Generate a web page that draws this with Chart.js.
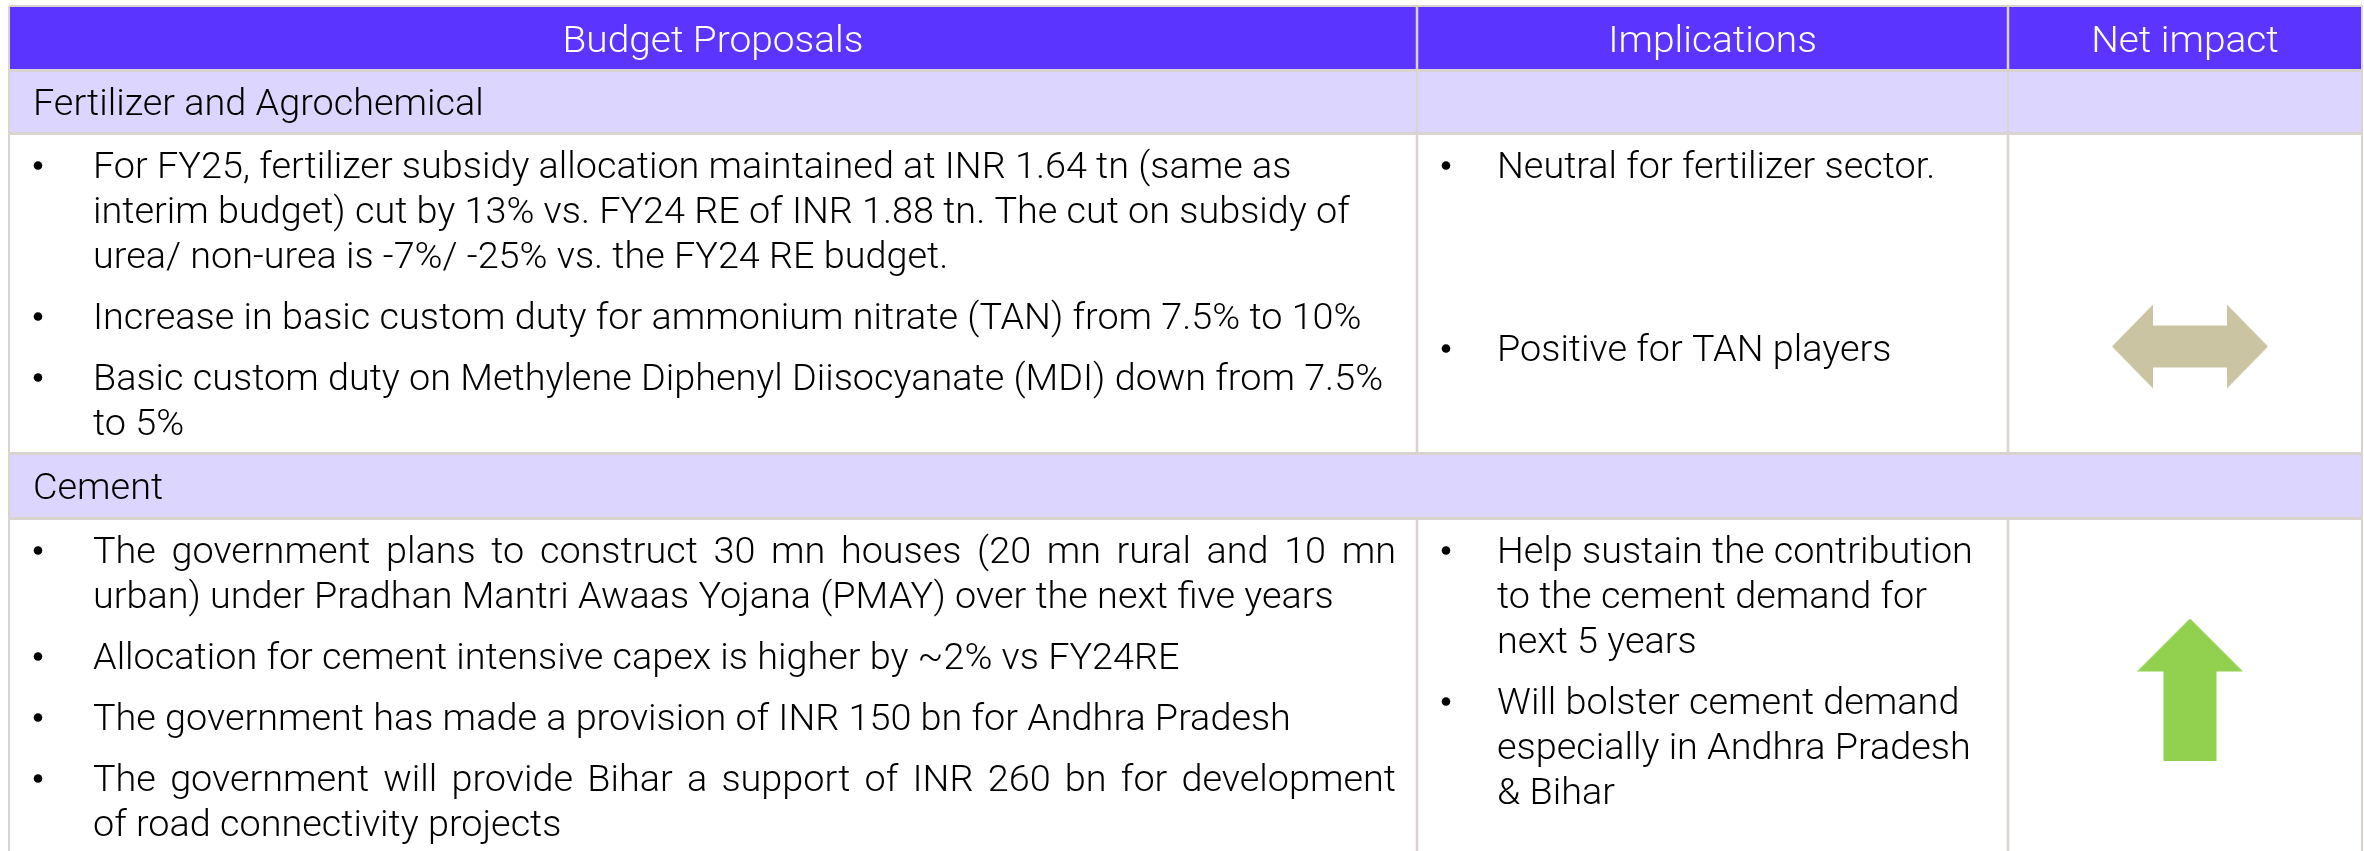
<!DOCTYPE html>
<html>
<head>
<meta charset="utf-8">
<script src="https://cdn.jsdelivr.net/npm/chart.js@4.4.1/dist/chart.umd.min.js"></script>
<style>
  html, body { margin: 0; padding: 0; background: #fff; overflow: hidden; }
  canvas { display: block; }
</style>
</head>
<body>
<canvas id="table" width="2364" height="851"></canvas>
<script>
// ---- content ----
const headers = ['Budget Proposals', 'Implications', 'Net impact'];
const sections = ['Fertilizer and Agrochemical', 'Cement'];

// one array of bullets per section, each bullet is a list of its lines
const proposals = [
  [
    ['For FY25, fertilizer subsidy allocation maintained at INR 1.64 tn (same as',
     'interim budget) cut by 13% vs. FY24 RE of INR 1.88 tn. The cut on subsidy of',
     'urea/ non-urea is -7%/ -25% vs. the FY24 RE budget.'],
    ['Increase in basic custom duty for ammonium nitrate (TAN) from 7.5% to 10%'],
    ['Basic custom duty on Methylene Diphenyl Diisocyanate (MDI) down from 7.5%',
     'to 5%']
  ],
  [
    ['The government plans to construct 30 mn houses (20 mn rural and 10 mn',
     'urban) under Pradhan Mantri Awaas Yojana (PMAY) over the next five years'],
    ['Allocation for cement intensive capex is higher by ~2% vs FY24RE'],
    ['The government has made a provision of INR 150 bn for Andhra Pradesh'],
    ['The government will provide Bihar a support of INR 260 bn for development',
     'of road connectivity projects']
  ]
];
const proposalsJustified = [false, true];

const implications = [
  [
    ['Neutral for fertilizer sector.'],
    [''],
    [''],
    ['Positive for TAN players']
  ],
  [
    ['Help sustain the contribution', 'to the cement demand for', 'next 5 years'],
    ['Will bolster cement demand', 'especially in Andhra Pradesh', '& Bihar']
  ]
];

const impacts = ['neutral', 'up'];

// ---- layout ----
const W = 2364, H = 851;
const colEdges = [9, 1417, 2008, 2362];
const rowEdges = [6, 70.5, 133.5, 453.5, 518.5, 880];
const rowKinds = ['header', 'section', 'body', 'section', 'body'];
const sectionMerged = [false, true];
const impactOffset = [213, 171];

const FONT_FAMILY = 'Roboto, "Open Sans", sans-serif';
const FONT_SIZE = 36;
const HEADER_SIZE = 37;
const STRETCH = 1.05;
const LINE_H = 45;
const PARA_GAP = 16;
const BODY_PAD = 31;
const TEXT_DY = 4;

const colors = {
  header: '#5b35ff',
  section: '#dcd6fe',
  body: '#ffffff',
  grid: '#d9d4d0',
  text: '#000000',
  headerText: '#ffffff',
  neutral: '#cac4a3',
  up: '#92d050'
};

function setFont(ctx, size) {
  ctx.font = `300 ${size}px ${FONT_FAMILY}`;
}

function drawText(ctx, text, x, y, align, justifyTo) {
  if (!text) return;
  if (justifyTo) {
    const words = text.split(' ');
    const widths = words.map(w => ctx.measureText(w).width * STRETCH);
    const total = widths.reduce((a, b) => a + b, 0);
    const gap = (justifyTo - x - total) / (words.length - 1);
    let cx = x;
    words.forEach((w, i) => {
      drawText(ctx, w, cx, y, 'left');
      cx += widths[i] + gap;
    });
    return;
  }
  ctx.save();
  ctx.translate(x, y);
  ctx.scale(STRETCH, 1);
  ctx.textAlign = align;
  ctx.fillText(text, 0, 0);
  ctx.restore();
}

function drawBullets(ctx, paras, left, right, top, justify, sx, sy, textIndent) {
  let y = top;
  paras.forEach(lines => {
    lines.forEach((line, i) => {
      const py = sy(y);
      if (i === 0 && line) {
        ctx.beginPath();
        ctx.arc(sx(left + 29), py - 3, 4.3, 0, Math.PI * 2);
        ctx.fill();
      }
      const last = i === lines.length - 1;
      drawText(ctx, line, sx(left + textIndent), py, 'left', justify && !last ? sx(right - 21) : null);
      y += LINE_H;
    });
    y += PARA_GAP;
  });
}

const tablePlugin = {
  id: 'tableDraw',
  beforeDatasetsDraw(chart) {
    const ctx = chart.ctx;
    const xs = chart.scales.x, ys = chart.scales.y;
    const sx = v => xs.getPixelForValue(v);
    const sy = v => ys.getPixelForValue(v);
    const left = colEdges[0], right = colEdges[colEdges.length - 1];

    ctx.save();
    // fills
    rowKinds.forEach((kind, r) => {
      ctx.fillStyle = colors[kind];
      ctx.fillRect(sx(left), sy(rowEdges[r]), sx(right) - sx(left), sy(rowEdges[r + 1]) - sy(rowEdges[r]));
    });

    // grid
    ctx.strokeStyle = colors.grid;
    rowEdges.slice(0, -1).forEach((e, i) => {
      ctx.lineWidth = i === 0 ? 2 : 3;
      ctx.beginPath();
      ctx.moveTo(sx(left), sy(e));
      ctx.lineTo(sx(right), sy(e));
      ctx.stroke();
    });
    let sectionIdx = 0;
    rowKinds.forEach((kind, r) => {
      const merged = kind === 'section' && sectionMerged[sectionIdx];
      if (kind === 'section') sectionIdx++;
      colEdges.forEach((c, ci) => {
        if (merged && ci > 0 && ci < colEdges.length - 1) return;
        ctx.lineWidth = (ci === 0 || ci === colEdges.length - 1) ? 2 : 2.5;
        ctx.beginPath();
        ctx.moveTo(sx(c), sy(rowEdges[r]));
        ctx.lineTo(sx(c), sy(rowEdges[r + 1]));
        ctx.stroke();
      });
    });

    // text
    ctx.textBaseline = 'middle';
    let s = 0, b = 0;
    rowKinds.forEach((kind, r) => {
      const top = rowEdges[r], bottom = rowEdges[r + 1];
      const mid = sy((top + bottom) / 2 + TEXT_DY);
      if (kind === 'header') {
        setFont(ctx, HEADER_SIZE);
        ctx.fillStyle = colors.headerText;
        headers.forEach((h, ci) => {
          drawText(ctx, h, sx((colEdges[ci] + colEdges[ci + 1]) / 2), mid, 'center');
        });
      } else if (kind === 'section') {
        setFont(ctx, FONT_SIZE);
        ctx.fillStyle = colors.text;
        drawText(ctx, sections[s], sx(left + 24), mid, 'left');
        s++;
      } else {
        setFont(ctx, FONT_SIZE);
        ctx.fillStyle = colors.text;
        drawBullets(ctx, proposals[b], colEdges[0], colEdges[1], top + BODY_PAD + TEXT_DY, proposalsJustified[b], sx, sy, 84);
        drawBullets(ctx, implications[b], colEdges[1], colEdges[2], top + BODY_PAD + TEXT_DY, false, sx, sy, 80);
        b++;
      }
    });
    ctx.restore();
  }
};

function makeArrow(kind) {
  const c = document.createElement('canvas');
  const g = c.getContext('2d');
  if (kind === 'neutral') {
    c.width = 156; c.height = 84;
    g.fillStyle = colors.neutral;
    g.beginPath();
    g.moveTo(0, 42); g.lineTo(41, 0); g.lineTo(41, 21); g.lineTo(115, 21);
    g.lineTo(115, 0); g.lineTo(156, 42); g.lineTo(115, 84); g.lineTo(115, 63);
    g.lineTo(41, 63); g.lineTo(41, 84);
    g.closePath(); g.fill();
  } else {
    c.width = 106; c.height = 142;
    g.fillStyle = colors.up;
    g.beginPath();
    g.moveTo(53, 0); g.lineTo(106, 53); g.lineTo(79.5, 53); g.lineTo(79.5, 142);
    g.lineTo(26.5, 142); g.lineTo(26.5, 53); g.lineTo(0, 53);
    g.closePath(); g.fill();
  }
  return c;
}
const icons = { neutral: makeArrow('neutral'), up: makeArrow('up') };

const bodyTops = rowKinds.map((k, r) => k === 'body' ? rowEdges[r] : null).filter(v => v !== null);
const impactPoints = impacts.map((imp, i) => ({
  x: (colEdges[2] + colEdges[3]) / 2 + 5,
  y: bodyTops[i] + impactOffset[i]
}));

new Chart(document.getElementById('table'), {
  type: 'scatter',
  data: {
    datasets: [{
      label: 'Net impact',
      data: impactPoints,
      pointStyle: ctx => icons[impacts[ctx.dataIndex]],
      pointRadius: 10,
      pointHoverRadius: 10,
      clip: false
    }]
  },
  options: {
    responsive: false,
    animation: false,
    events: [],
    layout: { padding: 0, autoPadding: false },
    scales: {
      x: { type: 'linear', min: 0, max: W, display: false },
      y: { type: 'linear', min: 0, max: H, reverse: true, display: false }
    },
    plugins: {
      legend: { display: false },
      tooltip: { enabled: false }
    }
  },
  plugins: [tablePlugin]
});
</script>
</body>
</html>
